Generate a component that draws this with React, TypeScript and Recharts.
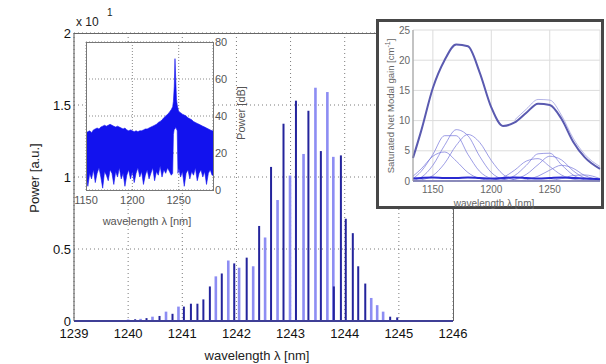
import React from 'react';
import {
  ComposedChart,
  Bar,
  Area,
  Line,
  XAxis,
  YAxis,
  CartesianGrid,
  ReferenceLine,
} from 'recharts';

// main spectrum: stem wavelength [nm], power [x10^1 a.u.], shade (d = dark line, l = light line)
const STEM_WL = [
  1239.89, 1240.0, 1240.13, 1240.23, 1240.34, 1240.45, 1240.58, 1240.7, 1240.82, 1240.93,
  1241.03, 1241.16, 1241.28, 1241.39, 1241.51, 1241.62, 1241.73, 1241.85, 1241.96, 1242.05,
  1242.19, 1242.31, 1242.42, 1242.53, 1242.64, 1242.76, 1242.87, 1242.99, 1243.1, 1243.24,
  1243.33, 1243.46, 1243.56, 1243.68, 1243.79, 1243.8, 1243.93, 1244.02, 1244.15, 1244.25,
  1244.38, 1244.49, 1244.6, 1244.71, 1244.84, 1244.97,
];
const STEM_POWER = [
  0.005, 0.01, 0.012, 0.015, 0.02, 0.03, 0.035, 0.065, 0.05, 0.1,
  0.1, 0.12, 0.12, 0.15, 0.24, 0.31, 0.33, 0.42, 0.4, 0.37,
  0.44, 0.38, 0.66, 0.58, 1.07, 0.84, 1.37, 1.01, 1.53, 1.16,
  1.46, 1.62, 1.18, 1.59, 1.14, 0.24, 1.15, 0.71, 0.61, 0.38,
  0.26, 0.16, 0.11, 0.065, 0.03, 0.025,
];
const STEM_SHADE = [
  'd', 'l', 'd', 'l', 'd', 'l', 'd', 'l', 'd', 'l',
  'd', 'd', 'd', 'd', 'd', 'l', 'd', 'l', 'd', 'l',
  'd', 'l', 'd', 'l', 'd', 'l', 'd', 'l', 'd', 'l',
  'd', 'l', 'd', 'l', 'l', 'd', 'd', 'd', 'd', 'd',
  'd', 'l', 'l', 'l', 'd', 'd',
];
const MAIN_X_TICKS = [1239, 1240, 1241, 1242, 1243, 1244, 1245, 1246];
const MAIN_Y_TICKS = [0, 0.5, 1, 1.5, 2];

// left inset: broadband spectrum envelope [dB]
const SPEC_WL = [
  1150, 1152, 1154, 1156, 1158, 1160, 1162, 1164, 1166, 1168,
  1170, 1172, 1174, 1176, 1178, 1180, 1182, 1184, 1186, 1188,
  1190, 1192, 1194, 1196, 1198, 1200, 1202, 1204, 1206, 1208,
  1210, 1212, 1214, 1216, 1218, 1220, 1222, 1224, 1226, 1228,
  1230, 1232, 1234, 1236, 1238, 1240, 1242, 1243.5, 1244.3, 1245.2,
  1246, 1246.8, 1247.6, 1248.4, 1249.2, 1250, 1252, 1254, 1256, 1258,
  1260, 1262, 1264, 1266, 1268, 1270, 1272, 1274, 1276, 1278,
  1280, 1282, 1284, 1286, 1287,
];
const SPEC_HIGH = [
  31, 31.5, 32, 31, 32.5, 33, 33.5, 33, 34, 34.5,
  35, 34.5, 35, 35.5, 35, 34.5, 34, 34.5, 34, 33.5,
  33, 33.5, 32.5, 32, 32.5, 32, 31.5, 32, 31.5, 32,
  32, 32.5, 33, 33, 33.5, 34, 34.5, 35, 35.5, 36.5,
  37, 38, 39, 40, 41, 42, 43.5, 45, 48, 56,
  71, 60, 49, 46, 44, 42.5, 41.8, 41, 40.5, 40,
  39, 38.5, 38, 37, 36.5, 36, 35.5, 35, 34.5, 34,
  33.5, 33, 32.5, 32, 32,
];
const SPEC_LOW = [
  8, 2, 9, 6, 11, 4, 9, 12, 7, 1,
  10, 8, 5, 11, 9, 3, 10, 7, 12, 6,
  9, 2, 8, 11, 6, 10, 4, 9, 12, 7,
  10, 3, 8, 11, 6, 9, 12, 5, 10, 8,
  13, 7, 11, 9, 12, 10, 8, 9, 30, 33,
  33, 34, 33, 32, 9, 12, 7, 10, 2, 9,
  11, 6, 10, 8, 12, 5, 9, 11, 7, 10,
  3, 9, 11, 8, 8,
];
const SPEC_X_TICKS = [1150, 1200, 1250];
const SPEC_Y_TICKS = [0, 20, 40, 60, 80];

// right inset: saturated net modal gain [cm^-1]
const GAIN_WL = [1133, 1140, 1150, 1160, 1170, 1180, 1190, 1200, 1210, 1220, 1230, 1240, 1250, 1260, 1270, 1280, 1293];
const GAIN_TOTAL = [3.8, 8.3, 15.4, 20.0, 22.6, 22.3, 18.0, 12.2, 9.1, 9.7, 11.3, 12.8, 12.6, 10.3, 6.5, 3.9, 2.0];
const GAIN_UPPER = [null, null, null, null, null, null, null, null, null, 10.1, 11.9, 13.5, 13.4, 10.9, 7.1, 4.4, 2.4];
const MODE_1 = [0.8, 2.0, 4.1, 4.8, 3.3, 1.4, 0.4, 0.1, 0, 0, 0, 0, 0, 0, 0, 0, 0];
const MODE_2 = [0.4, 1.6, 4.4, 7.5, 7.5, 4.4, 1.6, 0.4, 0.1, 0, 0, 0, 0, 0, 0, 0, 0];
const MODE_3 = [0.1, 0.6, 2.6, 5.9, 8.5, 7.5, 4.1, 1.4, 0.3, 0.05, 0, 0, 0, 0, 0, 0, 0];
const MODE_4 = [0, 0.2, 0.9, 2.9, 5.9, 7.7, 6.4, 3.4, 1.1, 0.2, 0, 0, 0, 0, 0, 0, 0];
const MODE_5 = [0, 0, 0, 0, 0, 0, 0, 0.1, 0.6, 1.8, 3.3, 3.7, 2.4, 1.0, 0.3, 0.05, 0];
const MODE_6 = [0, 0, 0, 0, 0, 0, 0, 0, 0.2, 0.9, 2.6, 4.5, 4.6, 2.7, 1.0, 0.2, 0];
const MODE_7 = [0, 0, 0, 0, 0, 0, 0, 0, 0, 0.3, 1.1, 2.7, 4.1, 3.5, 1.7, 0.5, 0.05];
const MODE_8 = [0, 0, 0, 0, 0, 0, 0, 0, 0, 0, 0.2, 0.8, 1.8, 2.6, 2.1, 0.9, 0.2];
const MODE_9 = [0, 0, 0, 0, 0, 0, 0, 0, 0, 0, 0, 0, 0.1, 0.4, 0.9, 1.0, 0.4];
const MODE_FLOOR = [0.4, 0.5, 0.6, 0.5, 0.5, 0.6, 0.5, 0.4, 0.5, 0.6, 0.5, 0.4, 0.5, 0.6, 0.5, 0.4, 0.3];
const GAIN_X_TICKS = [1150, 1200, 1250];
const GAIN_Y_TICKS = [0, 5, 10, 15, 20, 25];

const DARK = '#24249c';
const LIGHT = '#8d8df3';
const FONT = '"Liberation Sans", Arial, sans-serif';

const stemData = STEM_WL.map((wl, i) => ({ wl, power: STEM_POWER[i], shade: STEM_SHADE[i] }));
const specData = SPEC_WL.map((wl, i) => ({ wl, band: [SPEC_LOW[i], SPEC_HIGH[i]] }));
const modes = [MODE_1, MODE_2, MODE_3, MODE_4, MODE_5, MODE_6, MODE_7, MODE_8, MODE_9];
const gainData = GAIN_WL.map((wl, i) => {
  const row: any = { wl, total: GAIN_TOTAL[i], upper: GAIN_UPPER[i], floor: MODE_FLOOR[i] };
  modes.forEach((m, k) => (row[`m${k}`] = m[i]));
  return row;
});

const Stem = (props: any) => {
  const { x, y, width, height, payload, index } = props;
  if (height == null || height <= 0) return null;
  const shade = payload?.shade ?? STEM_SHADE[index];
  const w = shade === 'd' ? 2 : 2.6;
  const cx = x + width / 2;
  return <rect x={cx - w / 2} y={y} width={w} height={height} fill={shade === 'd' ? DARK : LIGHT} />;
};

const Label = ({ x, y, size, rotate, children, color = '#222' }: any) => (
  <div
    style={{
      position: 'absolute',
      left: x,
      top: y,
      transform: `translate(-50%, -50%)${rotate ? ` rotate(${rotate}deg)` : ''}`,
      fontSize: size,
      whiteSpace: 'nowrap',
      color,
      lineHeight: 1,
    }}
  >
    {children}
  </div>
);

export default function App() {
  return (
    <div style={{ position: 'absolute', left: 0, top: 0, width: 606, height: 364, background: '#fff', fontFamily: FONT }}>
      {/* main stem spectrum */}
      <div style={{ position: 'absolute', left: 0, top: 0 }}>
        <ComposedChart width={606} height={364} data={stemData} margin={{ top: 33, right: 153, bottom: 13, left: 34 }}>
          <CartesianGrid stroke="#7a7a7a" strokeDasharray="1 3" />
          <XAxis
            type="number"
            dataKey="wl"
            domain={[1239, 1246]}
            ticks={MAIN_X_TICKS}
            interval={0}
            height={30}
            tickLine={false}
            axisLine={{ stroke: '#555' }}
            tick={{ fontSize: 13, fill: '#111' }}
          />
          <YAxis
            domain={[0, 2]}
            ticks={MAIN_Y_TICKS}
            interval={0}
            width={40}
            tickSize={0}
            tickMargin={3}
            tickLine={false}
            axisLine={{ stroke: '#555' }}
            tick={{ fontSize: 13, fill: '#111' }}
          />
          <Bar dataKey="power" barSize={2} shape={Stem} isAnimationActive={false} />
          <ReferenceLine y={0} stroke="#2a2ad8" strokeWidth={2} />
        </ComposedChart>
      </div>
      {/* main axes box: top and right edges */}
      <svg width={606} height={364} style={{ position: 'absolute', left: 0, top: 0, zIndex: 3, pointerEvents: 'none' }}>
        <line x1={74} y1={33.5} x2={453.5} y2={33.5} stroke="#666" strokeWidth={1} />
        <line x1={453.5} y1={33} x2={453.5} y2={321} stroke="#666" strokeWidth={1} />
      </svg>
      <Label x={34} y={178} size={13} rotate={-90}>Power [a.u.]</Label>
      <Label x={257} y={355} size={13}>wavelength λ [nm]</Label>
      <div style={{ position: 'absolute', left: 76, top: 16, fontSize: 12, lineHeight: '12px', color: '#222' }}>x 10</div>
      <div style={{ position: 'absolute', left: 107, top: 8, fontSize: 10, lineHeight: '10px', color: '#222' }}>1</div>

      {/* left inset: broadband spectrum */}
      <div style={{ position: 'absolute', left: 74, top: 34, zIndex: 4 }}>
        <ComposedChart width={169} height={176} data={specData} margin={{ top: 8, right: 0, bottom: 0, left: 12 }}>
          <CartesianGrid fill="#fff" stroke="#8a8a8a" strokeDasharray="1 2" />
          <XAxis
            type="number"
            dataKey="wl"
            domain={[1150, 1287]}
            ticks={SPEC_X_TICKS}
            interval={0}
            height={20}
            tickSize={0}
            tickMargin={6}
            tickLine={false}
            axisLine={false}
            tick={{ fontSize: 11, fill: '#555' }}
          />
          <YAxis
            orientation="right"
            domain={[0, 80]}
            ticks={SPEC_Y_TICKS}
            interval={0}
            width={30}
            tickSize={0}
            tickMargin={2}
            tickLine={false}
            axisLine={false}
            tick={{ fontSize: 11, fill: '#555' }}
          />
          <Area
            type="linear"
            dataKey="band"
            stroke="#1212ee"
            strokeWidth={0.6}
            fill="#1212ee"
            fillOpacity={1}
            dot={false}
            activeDot={false}
            isAnimationActive={false}
          />
        </ComposedChart>
      </div>
      <div style={{ position: 'absolute', left: 86, top: 42, width: 128, height: 149, border: '1px solid #777', boxSizing: 'border-box', zIndex: 5, pointerEvents: 'none' }} />
      <Label x={147} y={221} size={11} color="#555">wavelength λ [nm]</Label>
      <Label x={241} y={113} size={11} rotate={-90} color="#555">Power [dB]</Label>

      {/* right inset: modal gain */}
      <div style={{ position: 'absolute', left: 376, top: 19, width: 228, height: 190, border: '3px solid #474747', boxSizing: 'border-box', background: '#fff', zIndex: 6 }} />
      <div style={{ position: 'absolute', left: 376, top: 19, zIndex: 7 }}>
        <ComposedChart width={228} height={190} data={gainData} margin={{ top: 11, right: 4, bottom: 12, left: 15 }}>
          <CartesianGrid stroke="#dcdcdc" fill="#fff" />
          <XAxis
            type="number"
            dataKey="wl"
            domain={[1133, 1293]}
            ticks={GAIN_X_TICKS}
            interval={0}
            height={16}
            tickSize={0}
            tickMargin={5}
            tickLine={false}
            axisLine={{ stroke: '#999' }}
            tick={{ fontSize: 10, fill: '#666' }}
          />
          <YAxis
            domain={[0, 25]}
            ticks={GAIN_Y_TICKS}
            interval={0}
            width={22}
            tickSize={0}
            tickMargin={3}
            tickLine={false}
            axisLine={{ stroke: '#999' }}
            tick={{ fontSize: 10, fill: '#666' }}
          />
          {modes.map((_, k) => (
            <Line
              key={k}
              type="monotone"
              dataKey={`m${k}`}
              stroke="#6f6fd8"
              strokeWidth={0.8}
              strokeOpacity={0.85}
              dot={false}
              isAnimationActive={false}
            />
          ))}
          <Line type="monotone" dataKey="floor" stroke="#2a2ad0" strokeWidth={2} dot={false} isAnimationActive={false} />
          <Line type="monotone" dataKey="upper" stroke="#a0a0e0" strokeWidth={0.8} dot={false} isAnimationActive={false} />
          <Line type="monotone" dataKey="total" stroke="#5a5ab0" strokeWidth={2} dot={false} isAnimationActive={false} />
        </ComposedChart>
      </div>
      <div style={{ position: 'absolute', left: 0, top: 0, zIndex: 8 }}>
        <Label x={494} y={204} size={10} color="#666">wavelength λ [nm]</Label>
        <Label x={390} y={106} size={9.5} rotate={-90} color="#666">
          Saturated Net Modal gain [cm<sup style={{ fontSize: 7 }}>-1</sup>]
        </Label>
      </div>
    </div>
  );
}
